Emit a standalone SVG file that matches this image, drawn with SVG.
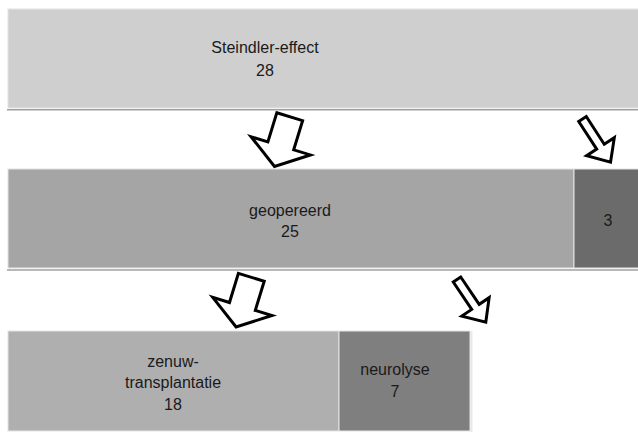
<svg xmlns="http://www.w3.org/2000/svg" width="638" height="432" viewBox="0 0 638 432">
<defs>
<style>
text{font-family:"Liberation Sans",Arial,sans-serif;font-size:16px;fill:#1a1a1a;text-anchor:middle}
.box{stroke:#e4e4e4;stroke-width:1}
.shadow{stroke:#a0a0a0;stroke-width:1.5;fill:none}
.arrow{fill:#fff;stroke:#000;stroke-width:3;stroke-linejoin:miter}
</style>
<path id="bigArrow" d="M-13.5,0 L13.5,0 L13.5,30.5 L31,30.5 L0,52 L-31,30.5 L-13.5,30.5 Z"/>
<path id="thinArrow" d="M-4.5,0 L4.5,0 L4.5,33 L16.5,33 L0,51.5 L-16.5,33 L-4.5,33 Z"/>
</defs>
<rect width="638" height="432" fill="#fff"/>
<g id="steindler">
<rect class="box" x="8" y="9" width="631" height="99" fill="#cfcfcf"/>
<line class="shadow" x1="7" y1="109.8" x2="638" y2="109.8"/>
<text x="265" y="53">Steindler-effect</text>
<text x="265" y="76">28</text>
</g>
<g id="geopereerd">
<rect class="box" x="8" y="169" width="566" height="99" fill="#a5a5a5"/>
<text x="290" y="216">geopereerd</text>
<text x="290" y="237">25</text>
</g>
<g id="niet-geopereerd">
<rect class="box" x="574" y="169" width="65" height="99" fill="#6b6b6b"/>
<text x="608" y="226">3</text>
</g>
<line class="shadow" x1="7" y1="270" x2="638" y2="270"/>
<g id="zenuwtransplantatie">
<rect class="box" x="8" y="331" width="331" height="100" fill="#afafaf"/>
<text x="173" y="367">zenuw-</text>
<text x="173" y="388">transplantatie</text>
<text x="173" y="410">18</text>
</g>
<g id="neurolyse">
<rect class="box" x="339" y="331" width="131" height="100" fill="#7f7f7f"/>
<line x1="471.5" y1="331" x2="471.5" y2="432" stroke="#e8e8e8" stroke-width="2"/>
<text x="395" y="375">neurolyse</text>
<text x="395" y="397">7</text>
</g>
<g id="connectors">
<use href="#bigArrow" class="arrow" transform="translate(289.7,116.7) rotate(17)"/>
<use href="#thinArrow" class="arrow" transform="translate(582.5,119) rotate(-33)"/>
<use href="#bigArrow" class="arrow" transform="translate(251.3,277.3) rotate(17)"/>
<use href="#thinArrow" class="arrow" transform="translate(457,279.5) rotate(-34)"/>
</g>
</svg>
